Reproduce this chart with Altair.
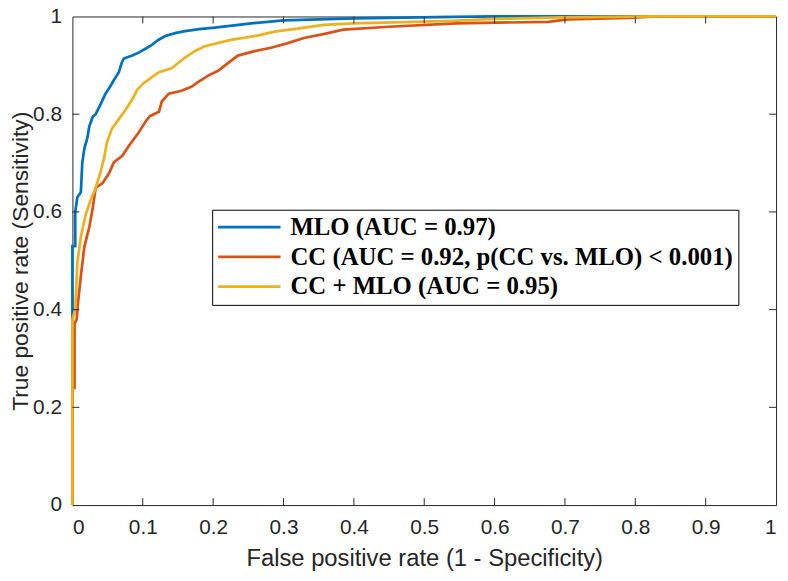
import altair as alt
import pandas as pd

# ---------------- data ----------------
series_names = [
    "MLO (AUC = 0.97)",
    "CC (AUC = 0.92, p(CC vs. MLO) < 0.001)",
    "CC + MLO (AUC = 0.95)",
]
series_colors = ["#0072BD", "#D95319", "#EDB120"]

mlo_fpr = [0, 0, 0.004, 0.004, 0.007, 0.012, 0.014, 0.017, 0.021, 0.024, 0.029, 0.033,
           0.040, 0.047, 0.053, 0.059, 0.066, 0.070, 0.073, 0.085, 0.094, 0.105, 0.113,
           0.122, 0.132, 0.146, 0.16, 0.18, 0.202, 0.23, 0.254, 0.30, 0.35, 0.40, 0.45,
           0.54, 0.60, 1.0]
mlo_tpr = [0, 0.53, 0.53, 0.60, 0.63, 0.64, 0.70, 0.73, 0.75, 0.775, 0.795, 0.80,
           0.82, 0.842, 0.855, 0.87, 0.886, 0.905, 0.914, 0.92, 0.926, 0.935, 0.942,
           0.952, 0.96, 0.966, 0.97, 0.974, 0.977, 0.982, 0.986, 0.992, 0.994, 0.996, 0.997,
           0.999, 1.0, 1.0]

cc_fpr = [0, 0, 0.003, 0.003, 0.006, 0.008, 0.012, 0.017, 0.024, 0.029, 0.033, 0.043,
          0.052, 0.059, 0.071, 0.080, 0.094, 0.104, 0.110, 0.123, 0.127, 0.137, 0.155,
          0.169, 0.179, 0.193, 0.207, 0.216, 0.235, 0.259, 0.282, 0.305, 0.329, 0.36,
          0.385, 0.45, 0.545, 0.676, 0.704, 0.789, 0.83, 1.0]
cc_tpr = [0, 0.24, 0.24, 0.37, 0.38, 0.415, 0.469, 0.529, 0.569, 0.609, 0.649, 0.659,
          0.679, 0.702, 0.715, 0.735, 0.762, 0.785, 0.796, 0.805, 0.826, 0.842, 0.848,
          0.856, 0.866, 0.879, 0.889, 0.899, 0.92, 0.929, 0.936, 0.945, 0.956, 0.965,
          0.973, 0.979, 0.986, 0.989, 0.994, 0.997, 1.0, 1.0]

both_fpr = [0, 0, 0.004, 0.007, 0.012, 0.019, 0.026, 0.033, 0.040, 0.045, 0.049, 0.056,
            0.066, 0.076, 0.085, 0.092, 0.100, 0.113, 0.123, 0.141, 0.16, 0.175, 0.188,
            0.225, 0.263, 0.287, 0.32, 0.357, 0.40, 0.54, 0.60, 0.695, 0.83, 1.0]
both_tpr = [0, 0.38, 0.40, 0.495, 0.549, 0.595, 0.625, 0.649, 0.682, 0.71, 0.742, 0.77,
            0.79, 0.81, 0.83, 0.85, 0.862, 0.876, 0.886, 0.894, 0.916, 0.93, 0.939,
            0.952, 0.961, 0.969, 0.975, 0.983, 0.986, 0.991, 0.995, 0.998, 1.0, 1.0]

x_tick_values = [0, 0.1, 0.2, 0.3, 0.4, 0.5, 0.6, 0.7, 0.8, 0.9, 1]
y_tick_values = [0, 0.2, 0.4, 0.6, 0.8, 1]

# ---------------- tables ----------------
rows = []
for name, fx, fy in zip(series_names, [mlo_fpr, cc_fpr, both_fpr], [mlo_tpr, cc_tpr, both_tpr]):
    for i, (a, b) in enumerate(zip(fx, fy)):
        rows.append({"series": name, "fpr": a, "tpr": b, "idx": i})
df = pd.DataFrame(rows)

W, H = 710, 493
TICK = 7
xt = pd.DataFrame({"v": x_tick_values[1:-1]})
yt = pd.DataFrame({"v": y_tick_values[1:-1]})

axis_color = "#262626"
x_scale = alt.Scale(domain=[0, 1], nice=False, zero=False)
y_scale = alt.Scale(domain=[0, 1], nice=False, zero=False)

x_axis = alt.Axis(values=x_tick_values, format="~g", ticks=False, domain=False, grid=False,
                  labelFont="Liberation Sans", labelFontSize=21, labelColor=axis_color,
                  labelPadding=12, title="False positive rate (1 - Specificity)",
                  titleFont="Liberation Sans", titleFontSize=24, titleFontWeight="normal",
                  titleColor=axis_color, titlePadding=9)
y_axis = alt.Axis(values=y_tick_values, format="~g", ticks=False, domain=False, grid=False,
                  labelFont="Liberation Sans", labelFontSize=21, labelColor=axis_color,
                  labelPadding=11, title="True positive rate (Sensitivity)",
                  titleFont="Liberation Sans", titleFontSize=23, titleFontWeight="normal",
                  titleColor=axis_color, titlePadding=0)

legend = alt.Legend(orient="none", legendX=141, legendY=195, title=None,
                    fillColor="white", strokeColor="black", padding=5,
                    labelFont="Liberation Serif", labelFontWeight="bold", labelFontSize=25,
                    labelColor="black", symbolType="M-3,0H3", symbolSize=441,
                    symbolOffset=20, symbolStrokeWidth=2.75, labelOffset=29,
                    rowPadding=4, labelLimit=0)

color = alt.Color("series:N", scale=alt.Scale(domain=series_names, range=series_colors),
                  legend=legend)

layers = []
for name in series_names:
    layers.append(
        alt.Chart(df).transform_filter(alt.datum.series == name)
        .mark_line(strokeWidth=2.75)
        .encode(
            x=alt.X("fpr:Q", scale=x_scale, axis=x_axis),
            y=alt.Y("tpr:Q", scale=y_scale, axis=y_axis),
            color=color,
            order="idx:Q",
        )
    )

dx = TICK / W
dy = TICK / H
tick_style = dict(color=axis_color, strokeWidth=1)
bottom_ticks = alt.Chart(xt).mark_rule(**tick_style).encode(
    x=alt.X("v:Q", scale=x_scale, axis=x_axis),
    y=alt.Y(datum=0, scale=y_scale, axis=y_axis), y2=alt.Y2(datum=dy))
top_ticks = alt.Chart(xt).mark_rule(**tick_style).encode(
    x=alt.X("v:Q", scale=x_scale, axis=x_axis),
    y=alt.Y(datum=1, scale=y_scale, axis=y_axis), y2=alt.Y2(datum=1 - dy))
left_ticks = alt.Chart(yt).mark_rule(**tick_style).encode(
    y=alt.Y("v:Q", scale=y_scale, axis=y_axis),
    x=alt.X(datum=0, scale=x_scale, axis=x_axis), x2=alt.X2(datum=dx))
right_ticks = alt.Chart(yt).mark_rule(**tick_style).encode(
    y=alt.Y("v:Q", scale=y_scale, axis=y_axis),
    x=alt.X(datum=1, scale=x_scale, axis=x_axis), x2=alt.X2(datum=1 - dx))

chart = alt.layer(*layers, bottom_ticks, top_ticks, left_ticks, right_ticks).properties(
    width=W, height=H,
    background="white",
    autosize=alt.AutoSizeParams(type="none"),
    padding={"left": 65, "top": 6, "right": 4, "bottom": 66},
).configure_view(stroke=axis_color, strokeWidth=1)

chart.save("out.html", embed_options={"renderer": "svg", "actions": False})
